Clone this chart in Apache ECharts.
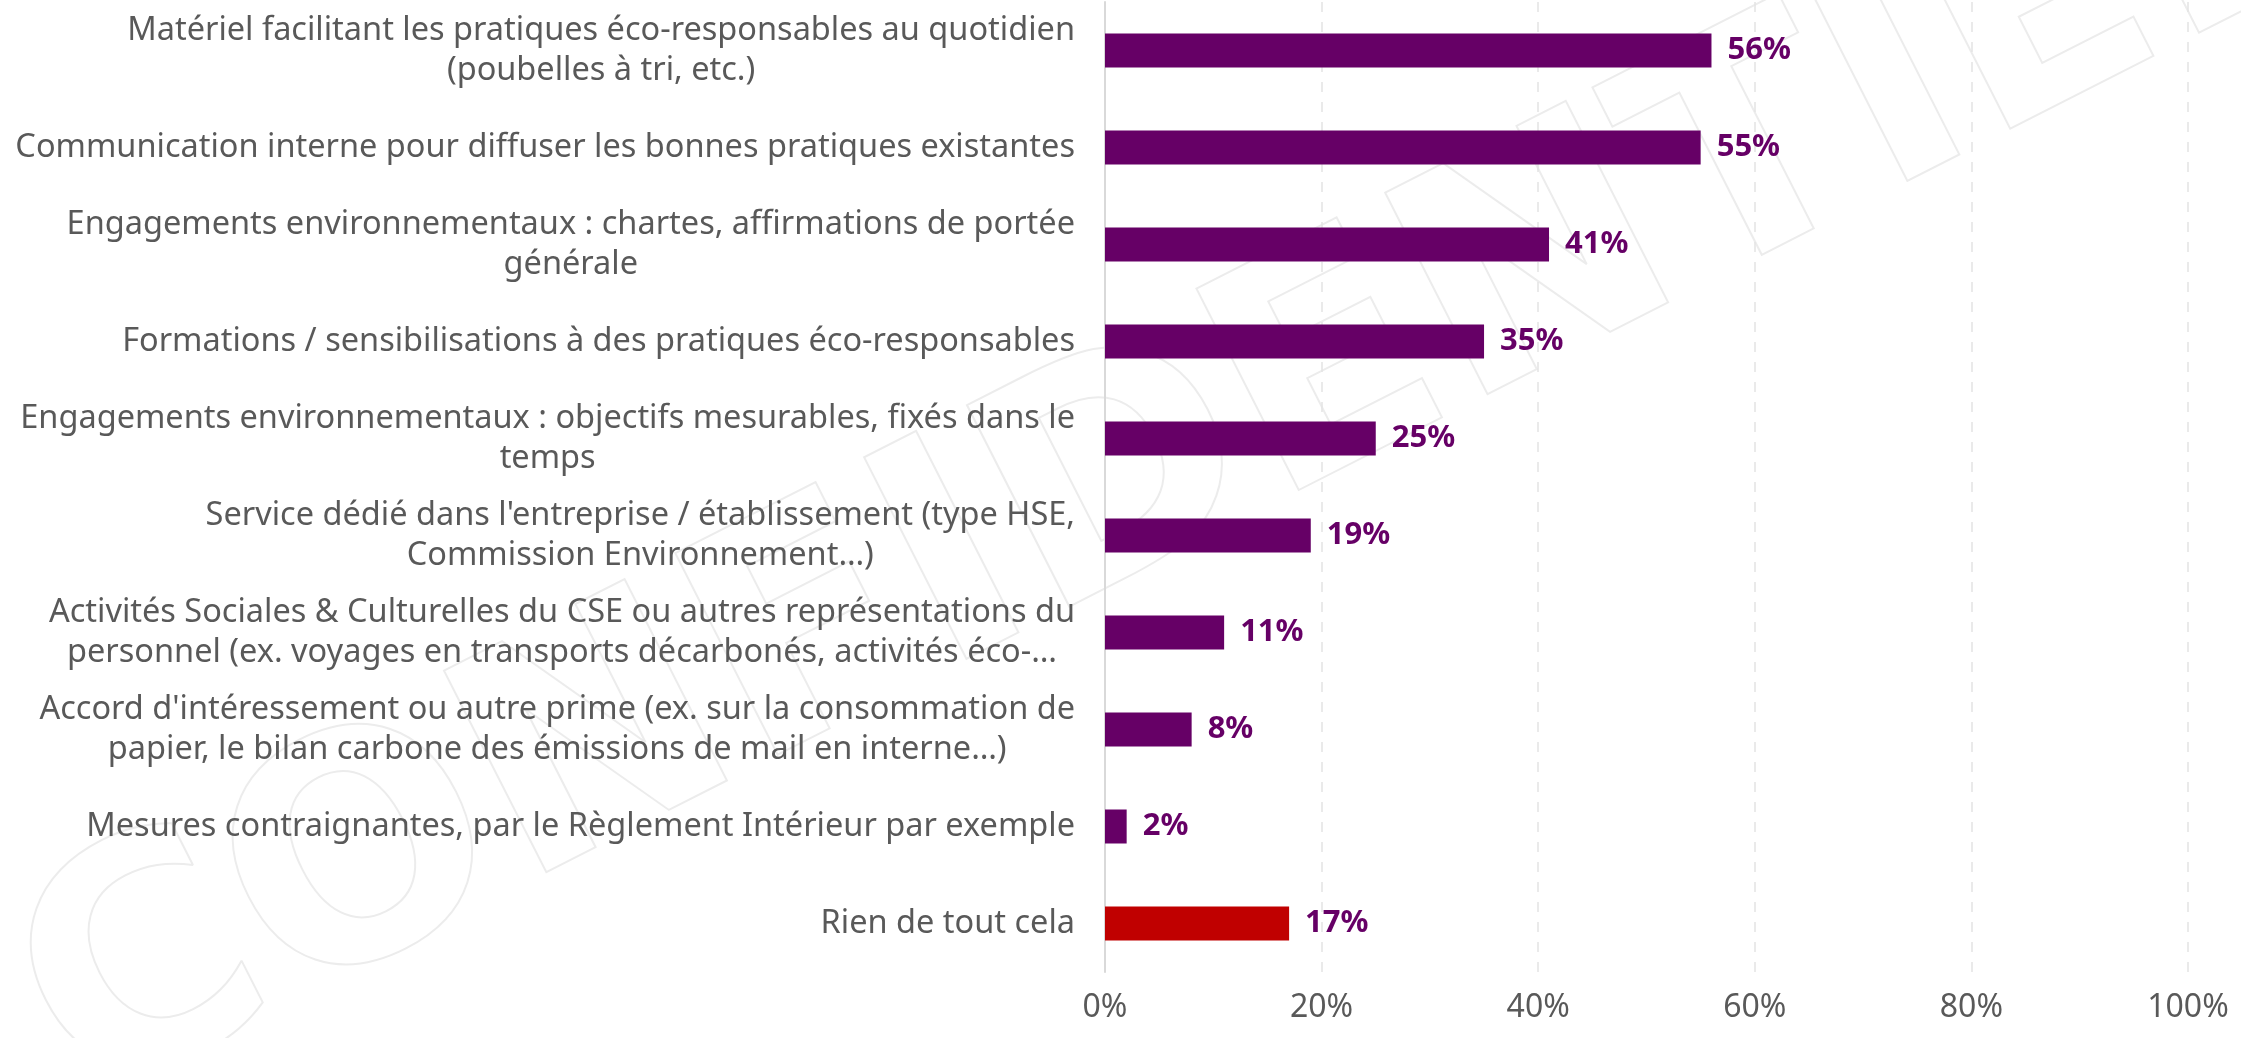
<!DOCTYPE html>
<html>
<head>
<meta charset="utf-8">
<script src="https://cdn.jsdelivr.net/npm/echarts@6/dist/echarts.min.js"></script>
<style>
    html, body { margin: 0; padding: 0; background: #fff; }
    #chart { width: 2241px; height: 1038px; }
</style>
</head>
<body>
<div id="chart"></div>
<script>
// libellés des catégories (de haut en bas)
const categories = [
    'Matériel facilitant les pratiques éco-responsables au quotidien\n(poubelles à tri, etc.)',
    'Communication interne pour diffuser les bonnes pratiques existantes',
    'Engagements environnementaux : chartes, affirmations de portée\ngénérale',
    'Formations / sensibilisations à des pratiques éco-responsables',
    'Engagements environnementaux : objectifs mesurables, fixés dans le\ntemps',
    'Service dédié dans l\'entreprise / établissement (type HSE,\nCommission Environnement…)',
    'Activités Sociales & Culturelles du CSE ou autres représentations du\npersonnel (ex. voyages en transports décarbonés, activités éco-…',
    'Accord d\'intéressement ou autre prime (ex. sur la consommation de\npapier, le bilan carbone des émissions de mail en interne…)',
    'Mesures contraignantes, par le Règlement Intérieur par exemple',
    'Rien de tout cela'
];
const values = [56, 55, 41, 35, 25, 19, 11, 8, 2, 17];
const highlighted = ['Rien de tout cela'];

const PURPLE = '#660066';
const RED = '#C00000';
const FONT = '"Noto Sans", "DejaVu Sans", sans-serif';

const chart = echarts.init(document.getElementById('chart'));

const option = {
    backgroundColor: '#fff',
    animation: false,
    // filigrane
    graphic: [
        {
            type: 'text',
            z: -10,
            silent: true,
            x: 1180,
            y: 460,
            rotation: 0.47,
            style: {
                text: 'CONFIDENTIEL',
                font: 'bold 310px "DejaVu Sans", sans-serif',
                fill: 'rgba(0,0,0,0)',
                stroke: '#ececec',
                lineWidth: 2,
                align: 'center',
                verticalAlign: 'middle'
            }
        }
    ],
    grid: {
        left: 1105,
        right: 53,
        top: 2,
        bottom: 66,
        outerBoundsMode: 'none'
    },
    xAxis: {
        type: 'value',
        min: 0,
        max: 100,
        interval: 20,
        axisLine: { show: false },
        axisTick: { show: false },
        axisLabel: {
            formatter: '{value}%',
            color: '#595959',
            fontFamily: FONT,
            fontSize: 32,
            margin: 20
        },
        splitLine: {
            show: true,
            lineStyle: { color: '#e3e3e3', type: [10, 10], width: 1.5 }
        }
    },
    yAxis: {
        type: 'category',
        inverse: true,
        data: categories,
        axisLine: { show: true, lineStyle: { color: '#d9d9d9', width: 2 } },
        axisTick: { show: false },
        axisLabel: {
            margin: 30,
            align: 'right',
            formatter: value => value.split('\n').map(line => '{c|' + line + '}').join('\n'),
            rich: {
                c: {
                    align: 'center',
                    color: '#595959',
                    fontFamily: FONT,
                    fontSize: 32.5,
                    lineHeight: 40
                }
            }
        }
    },
    series: [
        {
            type: 'bar',
            barWidth: 34,
            data: values.map((v, i) => ({
                value: v,
                itemStyle: { color: highlighted.includes(categories[i]) ? RED : PURPLE }
            })),
            label: {
                show: true,
                position: 'right',
                distance: 16,
                formatter: p => p.value + '%',
                color: PURPLE,
                fontFamily: FONT,
                fontWeight: 'bold',
                fontSize: 31
            }
        }
    ]
};

chart.setOption(option);
</script>
</body>
</html>
